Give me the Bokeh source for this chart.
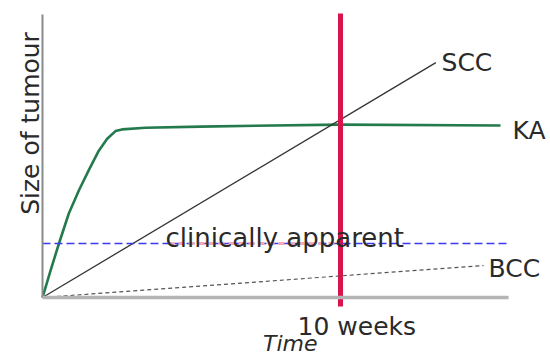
from bokeh.plotting import figure
from bokeh.models import Range1d
from bokeh.core.properties import value
from bokeh.embed import file_html
from bokeh.resources import INLINE

# Data (x in weeks, y in arbitrary size units 0..100)
ka_x = [0, 0.27, 0.55, 0.88, 1.22, 1.55, 1.89, 2.17, 2.45, 2.67, 3.46, 5.3, 10.0, 15.37]
ka_y = [0, 9.5, 19.0, 29.6, 37.8, 44.9, 51.9, 56.1, 58.8, 59.4, 60.0, 60.4, 61.1, 60.8]
scc_x = [0, 13.2]
scc_y = [0, 83.0]
bcc_x = [0, 14.8]
bcc_y = [0, 11.3]
threshold = 19.1
threshold_x = [0, 15.64]
pink_x = [4.23, 9.93]
marker_week = 10
axis_top = 100
x_end = 15.64

FONT = value("DejaVu Sans")

p = figure(width=550, height=358, output_backend="svg", toolbar_location=None,
           x_axis_type=None, y_axis_type=None, min_border=0,
           x_range=Range1d(-1.409, 17.047), y_range=Range1d(-21.55, 104.95))
p.grid.visible = False
p.outline_line_color = None
p.background_fill_color = "white"
p.border_fill_color = "white"

# KA curve
p.line(ka_x, ka_y, line_color="#237a4c", line_width=2.6, line_join="round")
# SCC line
p.line(scc_x, scc_y, line_color="#333333", line_width=1.3)
# red 10-week marker
p.line([marker_week, marker_week], [-3.2, 100.4], line_color="#d9134b", line_width=5)
# clinical threshold
p.line(threshold_x, [threshold, threshold], line_color="#3a3af5", line_width=1.5, line_dash="8 4")
p.line(pink_x, [threshold, threshold], line_color="#f5a8b8", line_width=3, line_dash="6 4")
# BCC
p.line(bcc_x, bcc_y, line_color="#555555", line_width=1.2, line_dash="4 3")
# axes
p.line([0, 0], [0, axis_top], line_color="#8a8a8a", line_width=2)
p.line([0, x_end], [0, 0], line_color="#b4b4b4", line_width=3.5)

TC = "#2a2a2a"
p.text([4.13], [21.2], text=["clinically apparent"], text_font=FONT, text_font_size="26px",
       text_color=TC, text_baseline="alphabetic", text_align="left")
p.text([8.56], [-10.3], text=["10 weeks"], text_font=FONT, text_font_size="25px",
       text_color=TC, text_baseline="alphabetic", text_align="left")
p.text([7.4], [-16.4], text=["Time"], text_font=FONT, text_font_size="22px",
       text_font_style="italic", text_color=TC, text_baseline="alphabetic", text_align="left")
p.text([13.39], [83.0], text=["SCC"], text_font=FONT, text_font_size="25px",
       text_color=TC, text_baseline="alphabetic", text_align="left")
p.text([15.77], [59.0], text=["KA"], text_font=FONT, text_font_size="25px",
       text_color=TC, text_baseline="alphabetic", text_align="left")
p.text([14.97], [10.25], text=["BCC"], text_font=FONT, text_font_size="25px",
       text_color=TC, text_baseline="alphabetic", text_align="left")
p.text([-0.4], [61.5], text=["Size of tumour"], text_font=FONT, text_font_size="25px",
       text_color=TC, text_baseline="alphabetic", text_align="center", angle=1.5708)

open("out.html", "w").write(file_html(p, INLINE))
